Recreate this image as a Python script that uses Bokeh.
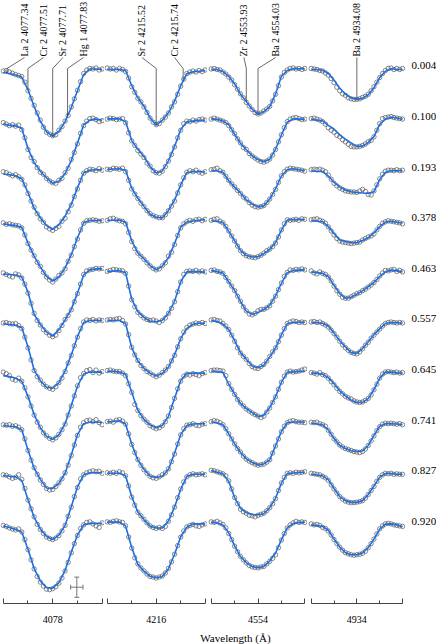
import numpy as np
from bokeh.plotting import figure
from bokeh.layouts import row, column
from bokeh.models import Range1d, LinearAxis, FixedTicker, ColumnDataSource, Whisker, TeeHead
from bokeh.core.properties import value
from bokeh.embed import file_html
from bokeh.resources import INLINE

# ---------------- data ----------------
PHASES = ["0.004", "0.100", "0.193", "0.378", "0.463", "0.557", "0.645", "0.741", "0.827", "0.920"]
CENTERS = [4077.71, 4215.52, 4554.03, 4934.08]
TICK_LABELS = ["4078", "4216", "4554", "4934"]
LINE_IDS = [["La 2", "Cr 2", "Sr 2", "Hg 1"], ["Sr 2", "Cr 2"], ["Zr 2", "Ba 2"], ["Ba 2"]]
LINE_WL = [[4077.34, 4077.51, 4077.71, 4077.83], [4215.52, 4215.74], [4553.93, 4554.03], [4934.08]]
MODEL_DWL = [-0.40, -0.35, -0.30, -0.25, -0.20, -0.15, -0.10, -0.05, 0.00, 0.05, 0.10, 0.15, 0.20, 0.25, 0.30, 0.35, 0.40]
OBS_DWL = [-0.400, -0.375, -0.350, -0.325, -0.300, -0.275, -0.250, -0.225, -0.200, -0.175, -0.150, -0.125, -0.100,
           -0.075, -0.050, -0.025, 0.000, 0.025, 0.050, 0.075, 0.100, 0.125, 0.150, 0.175, 0.200, 0.225, 0.250,
           0.275, 0.300, 0.325, 0.350, 0.375, 0.400]
ERR_WL = 0.05
ERR_FLUX = 0.04
PHASE_STEP = 0.2

MODEL_4078 = [
    [0.988, 0.984, 0.978, 0.970, 0.920, 0.854, 0.796, 0.754, 0.736, 0.756, 0.794, 0.850, 0.916, 0.980, 1.002, 1.002, 1.000],
    [0.985, 0.979, 0.977, 0.968, 0.888, 0.832, 0.798, 0.772, 0.750, 0.758, 0.789, 0.840, 0.909, 0.981, 1.000, 1.004, 1.000],
    [0.987, 0.984, 0.980, 0.968, 0.914, 0.852, 0.813, 0.783, 0.768, 0.786, 0.820, 0.867, 0.932, 0.992, 1.002, 1.004, 1.004],
    [0.990, 0.986, 0.983, 0.976, 0.914, 0.862, 0.820, 0.782, 0.764, 0.780, 0.816, 0.868, 0.934, 0.994, 1.003, 1.003, 1.003],
    [0.992, 0.990, 0.988, 0.980, 0.920, 0.832, 0.792, 0.762, 0.746, 0.772, 0.810, 0.852, 0.916, 0.988, 1.008, 1.012, 1.012],
    [0.995, 0.992, 0.989, 0.980, 0.904, 0.812, 0.770, 0.744, 0.740, 0.762, 0.808, 0.872, 0.944, 1.000, 1.008, 1.008, 1.008],
    [0.990, 0.986, 0.980, 0.968, 0.908, 0.836, 0.784, 0.750, 0.738, 0.756, 0.800, 0.872, 0.948, 0.996, 1.004, 1.004, 1.004],
    [0.993, 0.990, 0.988, 0.976, 0.896, 0.824, 0.780, 0.746, 0.744, 0.764, 0.804, 0.876, 0.956, 1.000, 1.006, 1.006, 1.006],
    [0.995, 0.992, 0.990, 0.976, 0.900, 0.830, 0.784, 0.754, 0.742, 0.760, 0.798, 0.872, 0.950, 0.998, 1.006, 1.006, 1.006],
    [0.996, 0.990, 0.982, 0.972, 0.904, 0.828, 0.778, 0.752, 0.750, 0.772, 0.820, 0.892, 0.960, 1.000, 1.006, 1.006, 1.006],
]
OBS_4078 = [
    [0.994, 0.996, 0.990, 0.985, 0.980, 0.976, 0.972, 0.950, 0.916, 0.886, 0.858, 0.828, 0.800, 0.772, 0.752, 0.744, 0.738, 0.742, 0.760, 0.774, 0.796, 0.818, 0.852, 0.884, 0.918, 0.952, 0.984, 0.998, 1.004, 1.002, 1.006, 0.998, 1.002],
    [0.990, 0.984, 0.978, 0.982, 0.976, 0.980, 0.962, 0.930, 0.884, 0.852, 0.836, 0.812, 0.794, 0.786, 0.770, 0.760, 0.752, 0.750, 0.762, 0.770, 0.792, 0.810, 0.844, 0.872, 0.906, 0.948, 0.978, 0.996, 1.006, 1.008, 1.002, 0.994, 0.998],
    [0.996, 0.992, 0.986, 0.980, 0.984, 0.976, 0.966, 0.944, 0.910, 0.880, 0.856, 0.830, 0.810, 0.796, 0.778, 0.770, 0.764, 0.772, 0.780, 0.800, 0.812, 0.838, 0.864, 0.898, 0.928, 0.962, 0.990, 1.000, 1.006, 1.004, 1.000, 1.008, 1.002],
    [0.994, 0.988, 0.990, 0.986, 0.984, 0.982, 0.974, 0.946, 0.912, 0.886, 0.864, 0.838, 0.822, 0.798, 0.780, 0.768, 0.760, 0.772, 0.786, 0.796, 0.812, 0.842, 0.866, 0.900, 0.930, 0.966, 0.992, 1.002, 1.004, 1.006, 1.004, 1.000, 1.002],
    [0.996, 0.990, 0.984, 0.980, 0.992, 0.988, 0.976, 0.952, 0.916, 0.876, 0.836, 0.808, 0.790, 0.772, 0.760, 0.750, 0.744, 0.750, 0.768, 0.788, 0.812, 0.828, 0.850, 0.882, 0.914, 0.952, 0.990, 1.004, 1.008, 1.010, 1.014, 1.012, 1.014],
    [0.998, 1.000, 0.996, 0.994, 0.996, 0.988, 0.976, 0.942, 0.900, 0.852, 0.810, 0.786, 0.772, 0.756, 0.746, 0.740, 0.736, 0.746, 0.762, 0.780, 0.806, 0.840, 0.870, 0.908, 0.942, 0.976, 1.002, 1.010, 1.008, 1.012, 1.006, 1.010, 1.008],
    [1.004, 0.998, 0.990, 0.976, 0.972, 0.980, 0.968, 0.942, 0.906, 0.870, 0.834, 0.806, 0.786, 0.764, 0.752, 0.742, 0.736, 0.744, 0.758, 0.776, 0.798, 0.834, 0.870, 0.910, 0.950, 0.982, 0.998, 1.010, 1.014, 1.002, 1.012, 1.000, 1.006],
    [0.996, 0.994, 0.996, 0.990, 0.992, 0.986, 0.976, 0.940, 0.894, 0.856, 0.826, 0.800, 0.778, 0.760, 0.744, 0.738, 0.740, 0.752, 0.766, 0.782, 0.806, 0.836, 0.874, 0.916, 0.954, 0.986, 1.004, 1.012, 1.014, 1.008, 1.016, 1.004, 0.996],
    [0.998, 0.996, 0.990, 0.984, 0.988, 0.998, 0.980, 0.944, 0.898, 0.864, 0.832, 0.802, 0.782, 0.766, 0.752, 0.746, 0.742, 0.748, 0.758, 0.776, 0.798, 0.834, 0.870, 0.912, 0.948, 0.982, 0.998, 1.006, 1.010, 1.014, 1.010, 1.012, 1.004],
    [0.998, 0.994, 0.988, 0.984, 0.980, 0.984, 0.972, 0.942, 0.902, 0.862, 0.826, 0.796, 0.774, 0.758, 0.746, 0.744, 0.748, 0.756, 0.770, 0.790, 0.818, 0.852, 0.890, 0.926, 0.958, 0.986, 1.000, 1.010, 1.012, 1.004, 0.996, 0.990, 1.008],
]

MODEL_4216 = [
    [1.000, 1.000, 1.000, 0.996, 0.936, 0.888, 0.855, 0.809, 0.780, 0.799, 0.829, 0.875, 0.936, 0.983, 0.991, 0.993, 0.996],
    [1.005, 1.005, 1.005, 0.994, 0.919, 0.885, 0.856, 0.816, 0.791, 0.799, 0.839, 0.896, 0.963, 0.993, 0.996, 0.999, 0.999],
    [1.005, 1.007, 1.008, 1.002, 0.931, 0.891, 0.859, 0.828, 0.816, 0.813, 0.843, 0.884, 0.944, 0.992, 0.997, 0.996, 0.995],
    [1.003, 1.004, 1.005, 0.996, 0.923, 0.875, 0.852, 0.825, 0.808, 0.823, 0.856, 0.912, 0.977, 0.997, 1.001, 1.004, 1.007],
    [1.001, 1.003, 1.005, 0.997, 0.892, 0.843, 0.820, 0.805, 0.803, 0.809, 0.836, 0.884, 0.961, 1.000, 1.001, 1.000, 0.999],
    [1.008, 1.008, 1.008, 0.996, 0.901, 0.848, 0.819, 0.800, 0.788, 0.799, 0.824, 0.872, 0.937, 0.977, 0.993, 0.997, 0.997],
    [1.007, 1.007, 1.004, 0.995, 0.924, 0.853, 0.817, 0.795, 0.784, 0.793, 0.829, 0.901, 0.971, 0.999, 1.000, 1.000, 1.000],
    [1.007, 1.009, 1.012, 0.999, 0.920, 0.856, 0.820, 0.792, 0.787, 0.792, 0.820, 0.883, 0.957, 0.993, 0.999, 1.000, 1.000],
    [1.004, 1.004, 1.004, 0.994, 0.912, 0.851, 0.821, 0.795, 0.788, 0.788, 0.815, 0.871, 0.941, 0.992, 1.000, 1.000, 1.000],
    [1.011, 1.011, 1.011, 0.996, 0.911, 0.844, 0.817, 0.797, 0.791, 0.796, 0.827, 0.884, 0.953, 0.991, 1.004, 1.004, 1.004],
]
OBS_4216 = [
    [1.006, 1.002, 1.004, 0.998, 1.004, 1.000, 0.992, 0.966, 0.932, 0.910, 0.886, 0.872, 0.852, 0.830, 0.808, 0.792, 0.782, 0.786, 0.800, 0.812, 0.828, 0.852, 0.872, 0.902, 0.934, 0.962, 0.984, 0.990, 0.994, 0.990, 0.996, 0.992, 0.998],
    [1.004, 1.008, 1.006, 1.002, 1.004, 1.006, 0.990, 0.950, 0.918, 0.900, 0.880, 0.866, 0.852, 0.830, 0.818, 0.800, 0.792, 0.790, 0.798, 0.816, 0.838, 0.864, 0.894, 0.930, 0.960, 0.986, 0.996, 0.994, 1.000, 0.996, 1.002, 1.004, 1.000],
    [1.006, 1.004, 1.010, 1.008, 1.006, 1.010, 0.996, 0.962, 0.928, 0.908, 0.890, 0.872, 0.858, 0.842, 0.830, 0.822, 0.818, 0.814, 0.814, 0.826, 0.842, 0.860, 0.880, 0.912, 0.944, 0.972, 0.994, 1.000, 0.996, 1.002, 0.994, 0.990, 0.996],
    [1.004, 1.010, 1.012, 1.006, 1.002, 1.000, 0.990, 0.956, 0.920, 0.892, 0.874, 0.862, 0.850, 0.836, 0.824, 0.814, 0.808, 0.812, 0.824, 0.836, 0.862, 0.878, 0.908, 0.944, 0.974, 0.990, 0.998, 1.004, 1.000, 1.006, 1.008, 1.002, 1.008],
    [1.002, 1.006, 1.010, 1.008, 1.006, 1.004, 0.994, 0.944, 0.890, 0.862, 0.840, 0.828, 0.818, 0.812, 0.808, 0.810, 0.806, 0.800, 0.808, 0.818, 0.836, 0.856, 0.882, 0.922, 0.960, 0.990, 1.002, 1.004, 1.002, 1.006, 1.000, 1.004, 1.000],
    [1.010, 1.012, 1.010, 1.014, 1.016, 1.008, 0.994, 0.952, 0.902, 0.872, 0.850, 0.830, 0.818, 0.806, 0.800, 0.792, 0.786, 0.792, 0.802, 0.812, 0.826, 0.848, 0.870, 0.904, 0.936, 0.962, 0.980, 0.990, 0.994, 0.998, 0.996, 1.000, 0.996],
    [1.010, 1.012, 1.008, 1.006, 1.006, 1.000, 0.990, 0.958, 0.924, 0.876, 0.852, 0.832, 0.818, 0.806, 0.792, 0.786, 0.780, 0.784, 0.792, 0.808, 0.830, 0.864, 0.900, 0.938, 0.968, 0.988, 0.996, 0.992, 0.998, 0.994, 0.990, 0.998, 1.002],
    [1.008, 1.010, 1.006, 1.014, 1.016, 1.010, 0.998, 0.960, 0.918, 0.886, 0.858, 0.836, 0.818, 0.804, 0.792, 0.786, 0.784, 0.790, 0.798, 0.806, 0.822, 0.850, 0.880, 0.920, 0.956, 0.980, 0.994, 0.996, 1.000, 0.994, 0.992, 0.998, 1.000],
    [1.006, 1.004, 1.008, 1.004, 1.010, 1.006, 0.994, 0.954, 0.910, 0.878, 0.850, 0.836, 0.822, 0.808, 0.796, 0.790, 0.786, 0.790, 0.786, 0.794, 0.814, 0.840, 0.870, 0.908, 0.942, 0.970, 0.990, 0.998, 1.002, 0.998, 1.000, 1.002, 0.998],
    [1.012, 1.010, 1.014, 1.016, 1.012, 1.010, 0.996, 0.952, 0.908, 0.870, 0.846, 0.830, 0.818, 0.806, 0.796, 0.794, 0.790, 0.794, 0.798, 0.810, 0.828, 0.854, 0.884, 0.918, 0.952, 0.976, 0.992, 0.998, 1.002, 0.996, 0.994, 1.000, 1.004],
]

MODEL_4554 = [
    [1.000, 1.000, 0.992, 0.973, 0.943, 0.903, 0.873, 0.843, 0.823, 0.833, 0.853, 0.903, 0.973, 0.996, 1.003, 1.003, 1.003],
    [1.005, 1.003, 0.997, 0.982, 0.944, 0.909, 0.883, 0.859, 0.844, 0.835, 0.845, 0.885, 0.941, 0.992, 1.005, 1.004, 1.003],
    [1.001, 0.999, 0.994, 0.960, 0.935, 0.912, 0.885, 0.868, 0.857, 0.861, 0.888, 0.928, 0.979, 1.004, 1.008, 1.004, 1.000],
    [1.003, 0.999, 0.995, 0.960, 0.923, 0.885, 0.865, 0.859, 0.860, 0.872, 0.889, 0.916, 0.965, 1.005, 1.006, 1.007, 1.007],
    [1.005, 1.001, 0.996, 0.960, 0.927, 0.883, 0.845, 0.832, 0.840, 0.851, 0.868, 0.905, 0.955, 0.997, 1.005, 1.007, 1.008],
    [1.008, 1.004, 0.994, 0.972, 0.928, 0.881, 0.855, 0.828, 0.821, 0.831, 0.864, 0.899, 0.951, 0.995, 1.000, 1.001, 1.001],
    [1.008, 1.005, 1.004, 0.956, 0.917, 0.880, 0.860, 0.844, 0.829, 0.833, 0.864, 0.907, 0.964, 1.003, 1.005, 1.007, 1.007],
    [1.007, 1.003, 0.996, 0.960, 0.920, 0.887, 0.861, 0.847, 0.837, 0.841, 0.857, 0.913, 0.969, 1.004, 1.007, 1.007, 1.007],
    [1.015, 1.008, 1.002, 0.972, 0.908, 0.865, 0.849, 0.841, 0.840, 0.844, 0.868, 0.905, 0.965, 1.003, 1.005, 1.007, 1.008],
    [1.011, 1.007, 1.000, 0.968, 0.917, 0.875, 0.851, 0.835, 0.831, 0.836, 0.857, 0.889, 0.941, 0.988, 1.005, 1.009, 1.011],
]
OBS_4554 = [
    [1.002, 1.004, 1.000, 0.998, 0.990, 0.982, 0.970, 0.958, 0.940, 0.922, 0.904, 0.888, 0.870, 0.856, 0.842, 0.830, 0.824, 0.828, 0.836, 0.844, 0.854, 0.876, 0.902, 0.936, 0.970, 0.988, 0.998, 1.004, 1.006, 1.002, 1.004, 1.000, 1.004],
    [1.004, 1.008, 1.004, 1.000, 0.996, 0.990, 0.978, 0.962, 0.946, 0.926, 0.910, 0.892, 0.884, 0.868, 0.858, 0.850, 0.842, 0.836, 0.834, 0.838, 0.846, 0.862, 0.884, 0.914, 0.942, 0.970, 0.994, 1.004, 1.008, 1.010, 1.006, 1.002, 1.004],
    [1.004, 1.006, 1.010, 1.000, 0.994, 0.978, 0.962, 0.948, 0.936, 0.922, 0.910, 0.896, 0.888, 0.874, 0.864, 0.858, 0.856, 0.858, 0.862, 0.874, 0.888, 0.906, 0.926, 0.954, 0.980, 0.996, 1.006, 1.010, 1.008, 1.006, 1.004, 1.002, 0.998],
    [1.004, 1.008, 1.010, 1.000, 0.994, 0.980, 0.962, 0.942, 0.922, 0.902, 0.884, 0.872, 0.864, 0.860, 0.858, 0.856, 0.860, 0.866, 0.874, 0.884, 0.890, 0.900, 0.914, 0.938, 0.966, 0.990, 1.006, 1.004, 1.006, 1.008, 1.004, 1.010, 1.008],
    [1.006, 1.008, 1.002, 1.000, 0.994, 0.978, 0.962, 0.944, 0.926, 0.904, 0.884, 0.862, 0.846, 0.834, 0.830, 0.836, 0.846, 0.852, 0.852, 0.858, 0.866, 0.884, 0.904, 0.930, 0.956, 0.982, 0.998, 1.008, 1.006, 1.010, 1.008, 1.012, 1.008],
    [1.010, 1.012, 1.008, 1.006, 0.996, 0.986, 0.972, 0.950, 0.926, 0.900, 0.880, 0.866, 0.854, 0.838, 0.826, 0.820, 0.818, 0.826, 0.834, 0.848, 0.866, 0.884, 0.900, 0.924, 0.950, 0.976, 0.996, 1.002, 1.006, 1.004, 1.000, 1.002, 1.000],
    [1.010, 1.012, 1.012, 1.010, 1.008, 0.990, 0.958, 0.936, 0.916, 0.896, 0.882, 0.870, 0.858, 0.850, 0.842, 0.836, 0.830, 0.824, 0.830, 0.846, 0.862, 0.884, 0.906, 0.936, 0.964, 0.988, 1.004, 1.008, 1.004, 1.006, 1.008, 1.012, 1.016],
    [1.008, 1.012, 1.010, 1.004, 0.996, 0.980, 0.960, 0.940, 0.920, 0.902, 0.888, 0.872, 0.860, 0.852, 0.846, 0.840, 0.836, 0.838, 0.840, 0.848, 0.858, 0.884, 0.912, 0.940, 0.968, 0.990, 1.004, 1.010, 1.012, 1.008, 1.006, 1.006, 1.004],
    [1.016, 1.014, 1.010, 1.006, 1.002, 0.994, 0.974, 0.942, 0.908, 0.884, 0.862, 0.852, 0.846, 0.838, 0.836, 0.832, 0.838, 0.842, 0.846, 0.856, 0.868, 0.884, 0.904, 0.936, 0.966, 0.988, 1.004, 1.006, 1.004, 1.008, 1.006, 1.008, 1.010],
    [1.012, 1.010, 1.014, 1.008, 1.002, 0.988, 0.966, 0.942, 0.916, 0.894, 0.876, 0.862, 0.850, 0.840, 0.834, 0.832, 0.830, 0.834, 0.836, 0.846, 0.856, 0.868, 0.882, 0.910, 0.940, 0.966, 0.988, 1.000, 1.008, 1.014, 1.010, 1.012, 1.010],
]

MODEL_4934 = [
    [1.000, 1.000, 0.997, 0.985, 0.958, 0.926, 0.903, 0.888, 0.882, 0.886, 0.900, 0.928, 0.968, 0.993, 1.003, 1.000, 1.000],
    [1.004, 1.000, 0.997, 0.979, 0.965, 0.942, 0.925, 0.910, 0.896, 0.897, 0.911, 0.935, 0.983, 1.004, 1.011, 1.008, 1.004],
    [1.000, 0.997, 0.997, 0.979, 0.954, 0.936, 0.924, 0.917, 0.914, 0.912, 0.911, 0.917, 0.965, 0.993, 1.000, 1.000, 1.000],
    [1.003, 1.000, 0.999, 0.979, 0.952, 0.926, 0.920, 0.915, 0.915, 0.924, 0.935, 0.954, 0.979, 0.997, 1.000, 0.996, 0.993],
    [1.000, 0.997, 0.994, 0.982, 0.947, 0.914, 0.896, 0.900, 0.912, 0.925, 0.942, 0.958, 0.982, 1.000, 1.007, 1.004, 1.000],
    [1.000, 0.999, 0.997, 0.986, 0.958, 0.928, 0.903, 0.881, 0.878, 0.897, 0.924, 0.952, 0.975, 0.996, 1.000, 0.999, 0.997],
    [1.000, 0.999, 0.996, 0.982, 0.958, 0.930, 0.910, 0.893, 0.884, 0.884, 0.899, 0.935, 0.980, 1.004, 1.004, 1.001, 1.000],
    [1.003, 0.999, 0.996, 0.975, 0.942, 0.914, 0.902, 0.893, 0.890, 0.892, 0.914, 0.954, 0.990, 1.000, 1.000, 0.999, 0.996],
    [1.000, 0.997, 0.994, 0.979, 0.944, 0.912, 0.896, 0.889, 0.889, 0.896, 0.920, 0.954, 0.989, 1.003, 1.003, 1.000, 1.000],
    [1.000, 0.997, 0.994, 0.979, 0.944, 0.912, 0.890, 0.882, 0.882, 0.889, 0.910, 0.944, 0.983, 1.003, 1.004, 1.000, 0.993],
]
OBS_4934 = [
    [1.004, 1.002, 1.000, 0.996, 0.994, 0.986, 0.978, 0.964, 0.948, 0.930, 0.916, 0.904, 0.898, 0.888, 0.884, 0.882, 0.882, 0.884, 0.890, 0.894, 0.902, 0.916, 0.932, 0.950, 0.968, 0.984, 0.996, 1.004, 1.006, 1.000, 1.004, 1.000, 1.004],
    [1.006, 1.008, 1.004, 1.000, 0.994, 0.984, 0.970, 0.960, 0.952, 0.940, 0.934, 0.922, 0.914, 0.904, 0.896, 0.894, 0.894, 0.896, 0.900, 0.906, 0.914, 0.920, 0.934, 0.960, 0.986, 1.006, 1.010, 1.012, 1.014, 1.010, 1.008, 1.006, 1.004],
    [1.004, 1.006, 1.004, 1.006, 1.002, 0.996, 0.982, 0.966, 0.950, 0.940, 0.932, 0.926, 0.920, 0.918, 0.916, 0.916, 0.914, 0.920, 0.926, 0.918, 0.906, 0.904, 0.920, 0.944, 0.968, 0.986, 0.998, 1.002, 1.002, 1.000, 1.004, 1.000, 1.002],
    [1.006, 1.008, 1.010, 1.004, 1.000, 0.992, 0.978, 0.962, 0.946, 0.932, 0.922, 0.918, 0.916, 0.914, 0.912, 0.914, 0.916, 0.918, 0.926, 0.932, 0.938, 0.942, 0.950, 0.966, 0.980, 0.992, 0.998, 1.002, 1.000, 0.998, 0.996, 0.994, 0.990],
    [1.004, 0.996, 0.992, 1.000, 0.994, 0.990, 0.980, 0.964, 0.944, 0.926, 0.912, 0.900, 0.896, 0.896, 0.902, 0.908, 0.914, 0.918, 0.926, 0.932, 0.940, 0.948, 0.958, 0.970, 0.984, 0.996, 1.006, 1.004, 1.008, 1.010, 1.002, 1.006, 1.000],
    [1.002, 1.004, 1.000, 1.002, 0.996, 0.990, 0.982, 0.970, 0.956, 0.942, 0.926, 0.912, 0.900, 0.890, 0.882, 0.878, 0.876, 0.884, 0.896, 0.910, 0.922, 0.938, 0.950, 0.962, 0.974, 0.986, 0.996, 1.000, 1.002, 1.000, 0.998, 1.000, 0.998],
    [1.002, 1.000, 0.996, 1.002, 0.994, 0.990, 0.980, 0.966, 0.954, 0.940, 0.928, 0.918, 0.908, 0.902, 0.898, 0.890, 0.886, 0.884, 0.886, 0.892, 0.900, 0.914, 0.934, 0.956, 0.980, 0.996, 1.004, 1.006, 1.004, 1.002, 1.004, 1.000, 1.002],
    [1.006, 1.004, 1.006, 1.000, 0.996, 0.990, 0.974, 0.958, 0.940, 0.928, 0.916, 0.908, 0.902, 0.898, 0.894, 0.890, 0.888, 0.886, 0.890, 0.900, 0.914, 0.932, 0.952, 0.972, 0.988, 0.998, 1.002, 1.000, 1.002, 1.000, 0.998, 1.000, 0.996],
    [1.004, 1.002, 1.000, 0.998, 0.992, 0.986, 0.976, 0.958, 0.942, 0.926, 0.912, 0.902, 0.894, 0.890, 0.888, 0.888, 0.890, 0.892, 0.896, 0.906, 0.920, 0.936, 0.952, 0.972, 0.988, 0.998, 1.004, 1.002, 1.004, 1.000, 1.002, 1.000, 1.000],
    [1.004, 1.000, 1.002, 0.998, 0.990, 0.986, 0.976, 0.960, 0.942, 0.926, 0.912, 0.900, 0.890, 0.886, 0.882, 0.880, 0.882, 0.884, 0.888, 0.896, 0.910, 0.926, 0.944, 0.964, 0.984, 0.996, 1.004, 1.006, 1.004, 1.000, 0.998, 0.996, 0.994],
]

MODELS = [MODEL_4078, MODEL_4216, MODEL_4554, MODEL_4934]
OBSERVED = [OBS_4078, OBS_4216, OBS_4554, OBS_4934]
for m, o in zip(MODELS, OBSERVED):
    assert len(m) == len(PHASES) and len(o) == len(PHASES)
    for r in m:
        assert len(r) == len(MODEL_DWL)
    for r in o:
        assert len(r) == len(OBS_DWL)

# ---------------- layout (pixels) ----------------
FIG_EDGES = [0, 104, 207, 307, 436]                      # figure boundaries (px)
AXIS_EXT = [(2.7, 101.7), (106.7, 204.7), (210.7, 304.3), (310.7, 402.0)]
FRAME_H = 603
BOTTOM_H = 24
LABEL_H = 17
HALF = 0.4
Y_TOP = 1 + 69 / 253.0
Y_BOT = 1 - 534 / 253.0
FONT = "Liberation Serif"
BLUE = "#1d6fe3"
GREY = "#555555"

TEXT_BASE_Y = 1 + 13 / 253.0
KNEE_Y = 1 + 1 / 253.0
LABEL_POS = [[-0.228, -0.074, 0.083, 0.249], [-0.116, 0.149], [-0.120, 0.150], [0.0]]

figs = []
for k in range(4):
    left, right = FIG_EDGES[k], FIG_EDGES[k + 1]
    a0, a1 = AXIS_EXT[k]
    ppa = (a1 - a0) / (2 * HALF)
    xs = -HALF - (a0 - left) / ppa
    xe = HALF + (right - a1) / ppa
    p = figure(frame_width=right - left, frame_height=FRAME_H,
               x_range=Range1d(xs, xe), y_range=Range1d(Y_BOT, Y_TOP),
               output_backend="svg", toolbar_location=None,
               x_axis_location=None, y_axis_location=None,
               min_border_left=0, min_border_right=0, min_border_top=0,
               min_border_bottom=BOTTOM_H)
    p.outline_line_color = None
    p.grid.visible = False
    p.background_fill_color = "white"

    ax = LinearAxis(bounds=(-HALF, HALF),
                    ticker=FixedTicker(ticks=[-HALF, 0, HALF], minor_ticks=[-HALF / 2, HALF / 2]))
    ax.major_label_overrides = {-HALF: " ", 0: TICK_LABELS[k], HALF: " "}
    ax.axis_line_color = "#444444"
    ax.major_tick_line_color = "#444444"
    ax.minor_tick_line_color = "#444444"
    ax.major_tick_in = 5
    ax.major_tick_out = 0
    ax.minor_tick_in = 3
    ax.minor_tick_out = 0
    ax.major_label_standoff = 10
    ax.major_label_text_font = FONT
    ax.major_label_text_font_size = "10px"
    ax.major_label_text_color = "black"
    p.add_layout(ax, "below")

    obs_x = np.array(OBS_DWL)
    mod_x = np.array(MODEL_DWL)
    ox, oy, mxs, mys = [], [], [], []
    for i in range(len(PHASES)):
        off = -PHASE_STEP * i
        ox.extend(obs_x.tolist())
        oy.extend((np.array(OBSERVED[k][i]) + off).tolist())
        mxs.append(mod_x.tolist())
        mys.append((np.array(MODELS[k][i]) + off).tolist())
    p.scatter(ox, oy, marker="circle", size=4.4, line_color=GREY, fill_color=None, line_width=0.7)
    p.multi_line(mxs, mys, line_color=BLUE, line_width=1.6)

    lx, ly = [], []
    for j, wl in enumerate(LINE_WL[k]):
        dx = wl - CENTERS[k]
        tx = LABEL_POS[k][j]
        ycurve = float(np.interp(dx, mod_x, np.array(MODELS[k][0])))
        lx.append([tx, dx, dx])
        ly.append([TEXT_BASE_Y - 0.004, KNEE_Y, ycurve])
    p.multi_line(lx, ly, line_color="#444444", line_width=0.8)
    texts = ["%s %.2f" % (LINE_IDS[k][j], LINE_WL[k][j]) for j in range(len(LINE_WL[k]))]
    p.text(x=LABEL_POS[k], y=[TEXT_BASE_Y] * len(texts), text=texts, angle=np.pi / 2,
           text_align="left", text_baseline="middle", text_font=value(FONT),
           text_font_size="10px", text_color="black")

    if k == 0:
        ex, ey = (76.3 - a0) / ppa - HALF, 1 + (69 - 586.7) / 253.0
        src = ColumnDataSource(dict(x=[ex], y=[ey], xl=[ex - ERR_WL], xu=[ex + ERR_WL],
                                    yl=[ey - ERR_FLUX], yu=[ey + ERR_FLUX]))
        for dim, base, lo, up in (("height", "x", "yl", "yu"), ("width", "y", "xl", "xu")):
            p.add_layout(Whisker(source=src, base=base, lower=lo, upper=up, dimension=dim,
                                 line_color="#777777", line_width=1,
                                 upper_head=TeeHead(size=5, line_color="#777777", line_width=1),
                                 lower_head=TeeHead(size=5, line_color="#777777", line_width=1)))
    if k == 3:
        px_lab = (411 - a0) / ppa - HALF
        p.text(x=[px_lab] * len(PHASES),
               y=[1 - PHASE_STEP * i + 0.014 for i in range(len(PHASES))],
               text=PHASES, text_align="left", text_baseline="middle",
               text_font=value(FONT), text_font_size="11px", text_color="black")
    figs.append(p)

lab = figure(width=FIG_EDGES[-1], height=LABEL_H, x_range=Range1d(0, FIG_EDGES[-1]),
             y_range=Range1d(0, LABEL_H), output_backend="svg", toolbar_location=None,
             x_axis_location=None, y_axis_location=None, min_border=0)
lab.outline_line_color = None
lab.grid.visible = False
lab.text(x=[235], y=[LABEL_H - 10], text=["Wavelength (Å)"], text_align="center",
         text_baseline="middle", text_font=value(FONT), text_font_size="11px", text_color="black")

layout = column(row(*figs, spacing=0), lab, spacing=0)
open("out.html", "w").write(file_html(layout, INLINE))
